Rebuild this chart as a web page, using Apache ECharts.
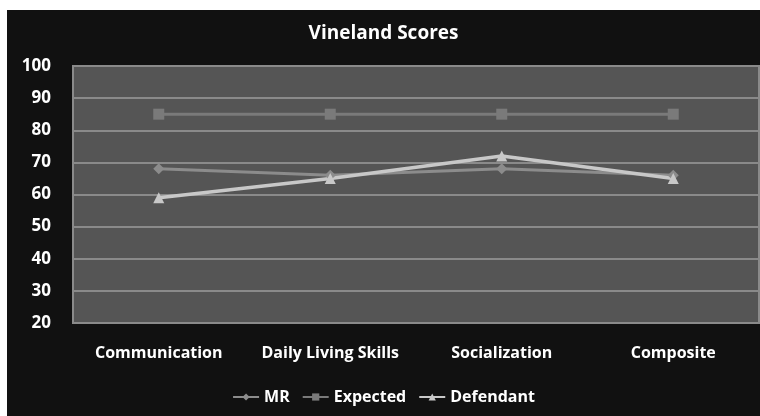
<!DOCTYPE html>
<html>
<head>
<meta charset="utf-8">
<script src="https://cdn.jsdelivr.net/npm/echarts@6/dist/echarts.min.js"></script>
<style>
  html, body { margin: 0; padding: 0; background: #fff; }
  #chart { position: absolute; left: 7px; top: 10px; width: 753px; height: 406px; }
</style>
</head>
<body>
<div id="chart"></div>
<script>
// data
const categories = ['Communication', 'Daily Living Skills', 'Socialization', 'Composite'];
const mr = [68, 66, 68, 66];
const expected = [85, 85, 85, 85];
const defendant = [59, 65, 72, 65];
const yTicks = { min: 20, max: 100, step: 10 };

const chart = echarts.init(document.getElementById('chart'));

const font = '"Open Sans", "DejaVu Sans", sans-serif';

const lineSeries = (name, data, color, symbol, width) => ({
  name: name,
  type: 'line',
  data: data,
  symbol: symbol,
  symbolSize: 11,
  lineStyle: { color: color, width: width },
  itemStyle: { color: color },
  emphasis: { disabled: true },
});

chart.setOption({
  backgroundColor: '#111111',
  animation: false,
  title: {
    text: 'Vineland Scores',
    left: 'center',
    top: 9,
    textStyle: { color: '#fff', fontFamily: font, fontWeight: 'bold', fontSize: 19 },
  },
  legend: {
    bottom: 6,
    left: 'center',
    itemWidth: 26,
    itemHeight: 9,
    itemGap: 12,
    textStyle: { color: '#fff', fontFamily: font, fontWeight: 'bold', fontSize: 16 },
    data: ['MR', 'Expected', 'Defendant'],
  },
  grid: {
    left: 66,
    right: 1,
    top: 56,
    bottom: 93,
    show: true,
    backgroundColor: '#555555',
    borderColor: '#8a8a8a',
    borderWidth: 2,
  },
  xAxis: {
    type: 'category',
    data: categories,
    boundaryGap: true,
    axisLine: { show: false },
    axisTick: { show: false },
    axisLabel: {
      interval: 0,
      color: '#fff',
      fontFamily: font,
      fontWeight: 'bold',
      fontSize: 16,
      margin: 22,
    },
  },
  yAxis: {
    type: 'value',
    min: yTicks.min,
    max: yTicks.max,
    interval: yTicks.step,
    axisLine: { show: false },
    axisTick: { show: false },
    axisLabel: {
      color: '#fff',
      fontFamily: font,
      fontWeight: 'bold',
      fontSize: 17,
      margin: 22,
    },
    splitLine: { lineStyle: { color: '#8a8a8a', width: 2 } },
  },
  series: [
    lineSeries('MR', mr, '#8c8c8c', 'diamond', 3),
    lineSeries('Expected', expected, '#7a7a7a', 'rect', 3),
    lineSeries('Defendant', defendant, '#c8c8c8', 'triangle', 3.5),
  ],
});

window.addEventListener('resize', () => chart.resize());
</script>
</body>
</html>
